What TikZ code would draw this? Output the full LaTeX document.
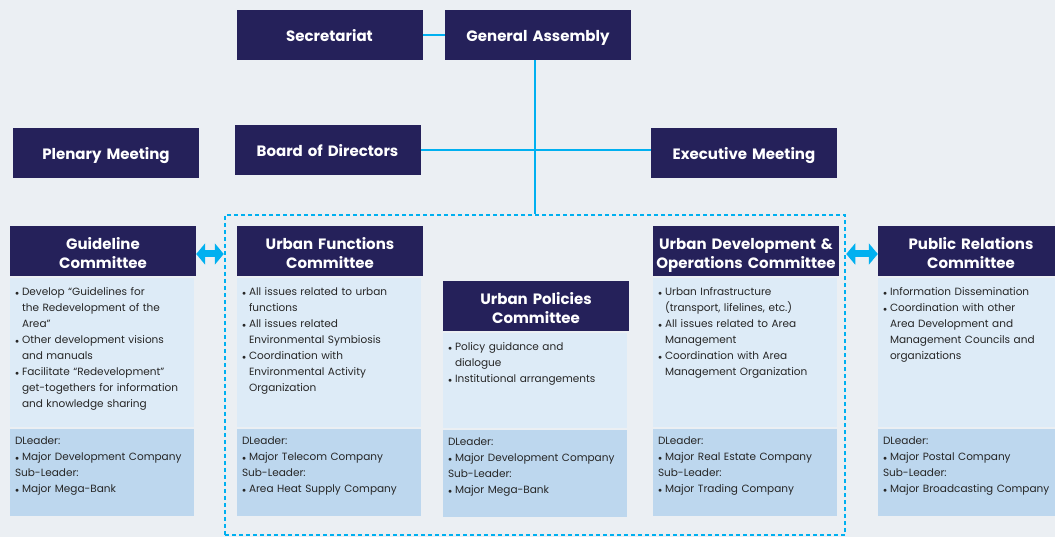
\documentclass[tikz,border=0pt]{standalone}
\usepackage{fontspec}
\setmainfont{Poppins}
\usetikzlibrary{positioning,arrows.meta}
\definecolor{navy}{HTML}{25215A}
\definecolor{bgc}{HTML}{EBEFF3}
\definecolor{lb1}{HTML}{DDEBF7}
\definecolor{lb2}{HTML}{BDD7EE}
\definecolor{cy}{HTML}{00B0F0}
\definecolor{tx}{HTML}{262626}
% first bullet of a list, and the ones after it
\newcommand{\itf}{\noindent\hangindent=7pt\hangafter=1\makebox[7pt][l]{$\scriptstyle\bullet$}}
\newcommand{\itm}{\par\itf}
\tikzset{
    NB/.style ={rectangle, fill=navy, text=white, text width=186pt, minimum height=50pt, inner sep=0pt, align=center, font=\fontsize{15}{19}\selectfont\bfseries, text height=31.5pt, text depth=18.5pt},
    HD/.style ={NB, text height=24pt, text depth=26pt},
    BD/.style ={rectangle, fill=lb1, text=tx, text width=174pt, inner xsep=5pt, inner ysep=0pt, align=left, font=\fontsize{10.5}{16}\selectfont, text height=17pt},
    LD/.style ={BD, fill=lb2, text height=15.5pt, text depth=71.5pt},
    LN/.style ={draw=cy, line width=2.5pt},
    DB/.style ={draw=cy, line width=2.5pt, dash pattern=on 4pt off 3pt, minimum width=620pt, minimum height=320pt},
    DA/.style ={draw=cy, line width=7pt, {Triangle[width=21pt,length=9pt]}-{Triangle[width=21pt,length=9pt]}}}

\begin{document}
\begin{tikzpicture}[x=1pt,y=1pt]
        \clip (0,0) rectangle (1055,-537);
        \fill[bgc] (0,0) rectangle (1055,-537);
        \node[DB] (11) at (535,-375) {};
        \node[NB] (1) at (329.5,-35) {Secretariat};
        \node[NB] (2) at (538,-35) {General Assembly};
        \node[NB] (3) at (106,-153) {Plenary Meeting};
        \node[NB] (4) at (327.5,-150) {Board of Directors};
        \node[NB] (5) at (744,-153) {Executive Meeting};
        \draw[LN] (1) -- (2);
        \draw[LN] (11.north |- 2.south) -- (11.north);
        \draw[LN] (4) -- (4 -| 5.west);
        % committees
        \node[HD] (6) at (103,-251) {Guideline\\Committee};
        \node[BD, text depth=132pt, below right=2pt and 0pt of 6.south west] (6t) {%
            \itf Develop “Guidelines for\newline the Redevelopment of the\newline Area”
            \itm Other development visions\newline and manuals
            \itm Facilitate “Redevelopment”\newline get-togethers for information\newline and knowledge sharing\par};
        \node[LD, below right=1pt and 0pt of 6t.south west] (6l) {%
            DLeader:\itm Major Development Company\par Sub-Leader:\itm Major Mega-Bank\par};
        \node[HD] (7) at (330,-251) {Urban Functions\\Committee};
        \node[BD, text depth=132pt, below right=2pt and 0pt of 7.south west] (7t) {%
            \itf All issues related to urban\newline functions
            \itm All issues related\newline Environmental Symbiosis
            \itm Coordination with\newline Environmental Activity\newline Organization\par};
        \node[LD, below right=1pt and 0pt of 7t.south west] (7l) {%
            DLeader:\itm Major Telecom Company\par Sub-Leader:\itm Area Heat Supply Company\par};
        \node[HD] (8) at (536,-306) {Urban Policies\\Committee};
        \node[BD, text depth=78pt, below right=2pt and 0pt of 8.south west] (8t) {%
            \itf Policy guidance and\newline dialogue
            \itm Institutional arrangements\par};
        \node[LD, below right=1pt and 0pt of 8t.south west] (8l) {%
            DLeader:\itm Major Development Company\par Sub-Leader:\itm Major Mega-Bank\par};
        \node[HD] (9) at (746,-251) {Urban Development \&\\Operations Committee};
        \node[BD, text depth=132pt, below right=2pt and 0pt of 9.south west] (9t) {%
            \itf Urban Infrastructure\newline (transport, lifelines, etc.)
            \itm All issues related to Area\newline Management
            \itm Coordination with Area\newline Management Organization\par};
        \node[LD, below right=1pt and 0pt of 9t.south west] (9l) {%
            DLeader:\itm Major Real Estate Company\par Sub-Leader:\itm Major Trading Company\par};
        \node[HD] (10) at (971,-251) {Public Relations\\Committee};
        \node[BD, text depth=132pt, below right=2pt and 0pt of 10.south west] (10t) {%
            \itf Information Dissemination
            \itm Coordination with other\newline Area Development and\newline Management Councils and\newline organizations\par};
        \node[LD, below right=1pt and 0pt of 10t.south west] (10l) {%
            DLeader:\itm Major Postal Company\par Sub-Leader:\itm Major Broadcasting Company\par};
        \draw[DA] ([yshift=-3pt]6.east) -- ([yshift=-3pt]6.east -| 11.west);
        \draw[DA] ([yshift=-3pt]11.east |- 10.west) -- ([yshift=-3pt]10.west);
    \end{tikzpicture}
\end{document}
